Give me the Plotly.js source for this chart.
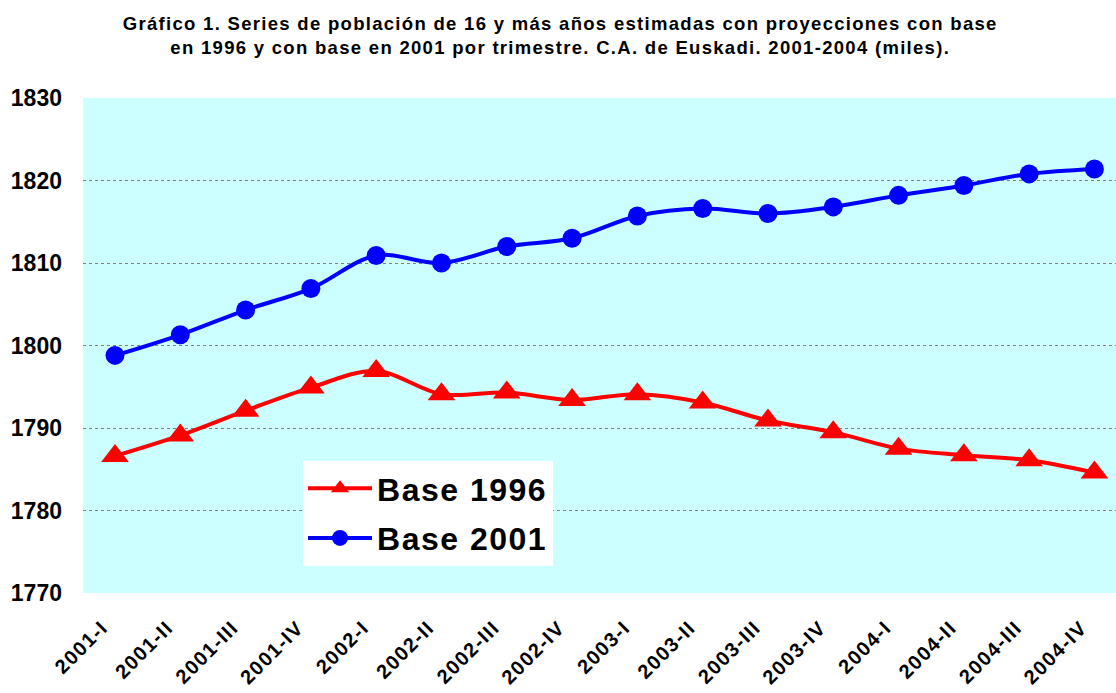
<!DOCTYPE html>
<html>
<head>
<meta charset="utf-8">
<script src="https://cdn.plot.ly/plotly-3.0.1.min.js"></script>
<style>
html,body{margin:0;padding:0;background:#fff;}
#chart{width:1116px;height:693px;}
.gtitle{letter-spacing:1.3px;}
.legendtext{letter-spacing:1.5px;}
.xtick text{letter-spacing:1.4px;}
</style>
</head>
<body>
<div id="chart"></div>
<script>
var categories = ["2001-I","2001-II","2001-III","2001-IV","2002-I","2002-II","2002-III","2002-IV","2003-I","2003-II","2003-III","2003-IV","2004-I","2004-II","2004-III","2004-IV"];
var base1996 = [1786.6,1789.1,1792.1,1794.9,1796.9,1794.1,1794.3,1793.4,1794.1,1793.1,1790.9,1789.5,1787.5,1786.7,1786.1,1784.6];
var base2001 = [1798.8,1801.3,1804.3,1806.9,1810.9,1810.0,1812.0,1813.0,1815.7,1816.6,1816.0,1816.8,1818.2,1819.4,1820.8,1821.4];
var yTicks = [1770,1780,1790,1800,1810,1820,1830];

var FONT = "Liberation Sans, Arial, sans-serif";

var traces = [
  {
    x: categories, y: base1996, name: "Base 1996", type: "scatter", mode: "lines+markers",
    legendgroup: "a",
    line: {color: "#FF0000", width: 4, shape: "spline", smoothing: 1},
    marker: {symbol: "triangle-up", size: 24, color: "#FF0000"}
  },
  {
    x: categories, y: base2001, name: "Base 2001", type: "scatter", mode: "lines+markers",
    legendgroup: "b",
    line: {color: "#0000FF", width: 4, shape: "spline", smoothing: 1},
    marker: {symbol: "circle", size: 19, color: "#0000FF"}
  }
];

var layout = {
  width: 1116, height: 693,
  margin: {l: 83, r: 0, t: 98, b: 100},
  paper_bgcolor: "#FFFFFF",
  plot_bgcolor: "#CCFFFF",
  font: {family: FONT, color: "#000000"},
  title: {
    text: "<b>Gráfico 1. Series de población de 16 y más años estimadas con proyecciones con base<br>en 1996 y con base en 2001 por trimestre. C.A. de Euskadi. 2001-2004 (miles).</b>",
    font: {family: FONT, size: 18.5, color: "#000"},
    xref: "container", yref: "container",
    x: 0.502, xanchor: "center", y: 1 - 30/693, yanchor: "middle"
  },
  xaxis: {
    type: "category",
    range: [-0.49, 15.33],
    tickangle: -45,
    tickfont: {family: FONT, size: 20, color: "#000", weight: "bold"},
    showgrid: false, zeroline: false, showline: false,
    ticks: "", ticklabelstandoff: 18, ticklabelshift: -13
  },
  yaxis: {
    range: [1770, 1830],
    tickvals: yTicks,
    ticktext: yTicks.map(String),
    tickfont: {family: FONT, size: 23, color: "#000", weight: "bold"},
    showgrid: true, gridcolor: "#808080", gridwidth: 1, griddash: "dot",
    zeroline: false, showline: false, ticks: "",
    ticklabelstandoff: 20
  },
  showlegend: true,
  legend: {
    x: 0.213, y: 0.2667, xanchor: "left", yanchor: "top",
    bgcolor: "#FFFFFF", borderwidth: 0,
    font: {family: FONT, size: 32, color: "#000", weight: "bold"},
    itemwidth: 64,
    traceorder: "grouped",
    tracegroupgap: 5
  }
};

Plotly.newPlot("chart", traces, layout, {displayModeBar: false, staticPlot: true});
</script>
</body>
</html>
